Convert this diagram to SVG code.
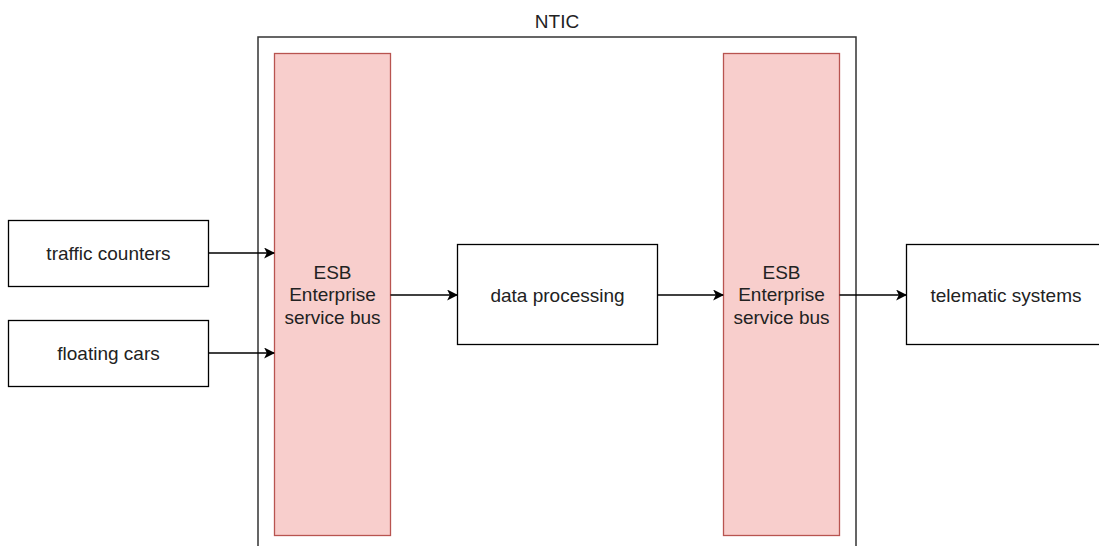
<svg xmlns="http://www.w3.org/2000/svg" width="1099" height="546" viewBox="0 0 1099 546">
<style>
.box{fill:#fff;stroke:#000;stroke-width:1.3}
.bus{fill:#f8cecc;stroke:#b85450;stroke-width:1.3}
.t{font-family:"Liberation Sans",Arial,sans-serif;font-size:19px;fill:#222;text-anchor:middle}
.c{stroke:#000;stroke-width:1.3;fill:none;marker-end:url(#ah)}
</style>
<defs>
<marker id="ah" viewBox="0 0 10 10" refX="9" refY="5" markerWidth="11" markerHeight="11" markerUnits="userSpaceOnUse" orient="auto">
<path d="M0,0 L10,5 L0,10 L2.5,5 Z" fill="#000"/>
</marker>
</defs>
<rect width="1099" height="546" fill="#fff"/>
<g id="ntic">
<rect x="258" y="37" width="598" height="530" fill="none" stroke="#333" stroke-width="1.5"/>
<text class="t" x="557" y="27.5">NTIC</text>
</g>
<g id="bus1">
<rect class="bus" x="274.5" y="53.5" width="116" height="482"/>
<text class="t" x="332.5" y="278.5">ESB</text>
<text class="t" x="332.5" y="301">Enterprise</text>
<text class="t" x="332.5" y="323.5">service bus</text>
</g>
<g id="bus2">
<rect class="bus" x="723.5" y="53.5" width="116" height="482"/>
<text class="t" x="781.5" y="278.5">ESB</text>
<text class="t" x="781.5" y="301">Enterprise</text>
<text class="t" x="781.5" y="323.5">service bus</text>
</g>
<g id="traffic">
<rect class="box" x="8.5" y="220.5" width="200" height="66"/>
<text class="t" x="108.5" y="260">traffic counters</text>
</g>
<g id="floating">
<rect class="box" x="8.5" y="320.5" width="200" height="66"/>
<text class="t" x="108.5" y="360">floating cars</text>
</g>
<g id="processing">
<rect class="box" x="457.5" y="244.5" width="200" height="100"/>
<text class="t" x="557.5" y="301.5">data processing</text>
</g>
<g id="telematic">
<rect class="box" x="906.5" y="244.5" width="200" height="100"/>
<text class="t" x="1006" y="301.5">telematic systems</text>
</g>
<g id="connectors">
<path class="c" d="M208.5,253 L274,253"/>
<path class="c" d="M208.5,353 L274,353"/>
<path class="c" d="M390.5,295 L457,295"/>
<path class="c" d="M657.5,295 L723,295"/>
<path class="c" d="M839.5,295 L906,295"/>
</g>
</svg>
